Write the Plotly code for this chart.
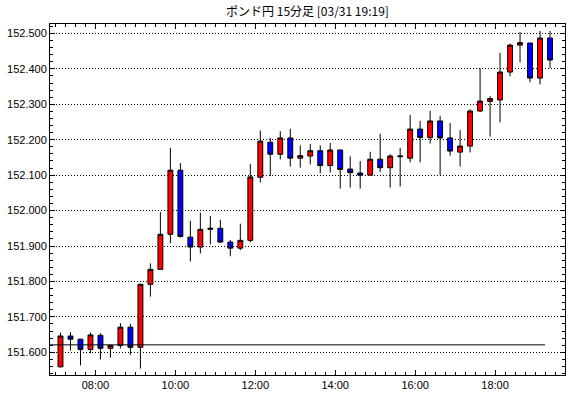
import pandas as pd
import plotly.graph_objects as go

TITLE = "ポンド円 15分足 [03/31 19:19]"
DATE = "2025-03-31"
START_TIMES = pd.date_range(f"{DATE} 07:00", periods=50, freq="15min").strftime("%H:%M").tolist()

OPEN = [151.559, 151.646, 151.637, 151.608, 151.648, 151.611, 151.619, 151.671, 151.614, 151.792,
        151.834, 151.933, 152.114, 151.925, 151.897, 151.947, 151.950, 151.911, 151.894, 151.916,
        152.094, 152.193, 152.159, 152.205, 152.148, 152.154, 152.169, 152.127, 152.171, 152.117,
        152.106, 152.100, 152.145, 152.121, 152.152, 152.148, 152.230, 152.206, 152.253, 152.205,
        152.165, 152.182, 152.281, 152.308, 152.312, 152.391, 152.467, 152.473, 152.374, 152.487]
HIGH = [151.655, 151.657, 151.638, 151.656, 151.654, 151.621, 151.682, 151.680, 151.793, 151.851,
        151.996, 152.177, 152.134, 151.971, 151.994, 151.985, 151.974, 151.917, 151.963, 152.132,
        152.226, 152.205, 152.224, 152.231, 152.184, 152.188, 152.184, 152.191, 152.172, 152.153,
        152.140, 152.166, 152.217, 152.159, 152.177, 152.270, 152.253, 152.282, 152.267, 152.247,
        152.227, 152.286, 152.402, 152.323, 152.445, 152.471, 152.504, 152.473, 152.507, 152.507]
LOW = [151.557, 151.605, 151.563, 151.597, 151.580, 151.585, 151.611, 151.593, 151.554, 151.757,
       151.834, 151.908, 151.924, 151.856, 151.879, 151.904, 151.910, 151.871, 151.888, 151.910,
       152.079, 152.097, 152.144, 152.124, 152.121, 152.130, 152.105, 152.107, 152.062, 152.065,
       152.062, 152.099, 152.109, 152.065, 152.068, 152.136, 152.136, 152.189, 152.100, 152.155,
       152.124, 152.164, 152.278, 152.209, 152.249, 152.379, 152.418, 152.362, 152.356, 152.402]
CLOSE = [151.646, 151.637, 151.608, 151.649, 151.611, 151.619, 151.671, 151.614, 151.792, 151.834,
         151.933, 152.114, 151.927, 151.897, 151.947, 151.950, 151.911, 151.894, 151.916, 152.095,
         152.196, 152.159, 152.205, 152.148, 152.155, 152.169, 152.127, 152.171, 152.116, 152.107,
         152.100, 152.145, 152.121, 152.154, 152.154, 152.230, 152.206, 152.253, 152.205, 152.168,
         152.182, 152.281, 152.309, 152.316, 152.391, 152.467, 152.474, 152.374, 152.487, 152.425]

REF_LEVEL = 151.621
REF_END = "19:15"

start = pd.to_datetime([f"{DATE} {t}" for t in START_TIMES])
centers = start + pd.Timedelta(minutes=7.5)

fig = go.Figure()
fig.add_trace(go.Candlestick(
    x=centers, open=OPEN, high=HIGH, low=LOW, close=CLOSE,
    increasing=dict(fillcolor="#FF0000", line=dict(color="black", width=1)),
    decreasing=dict(fillcolor="#0000FF", line=dict(color="black", width=1)),
    whiskerwidth=0, hoverinfo="skip", showlegend=False,
))

x0 = pd.Timestamp(f"{DATE} 06:51:45")
x1 = pd.Timestamp(f"{DATE} 19:45")
fig.add_shape(type="line", xref="x", yref="y",
              x0=x0, x1=pd.Timestamp(f"{DATE} {REF_END}"), y0=REF_LEVEL, y1=REF_LEVEL,
              line=dict(color="black", width=1), layer="above")

tickfont = dict(family="Liberation Sans", size=11, color="black")
fig.update_layout(
    width=570, height=398,
    margin=dict(l=50, r=5, t=24, b=23),
    paper_bgcolor="white", plot_bgcolor="white",
    title=dict(text=TITLE, x=(50 + 565) / 2 / 570, xanchor="center", y=1 - 12 / 398, yanchor="middle",
               font=dict(family="Noto Sans CJK JP", size=12, color="black")),
    boxgap=0.3,
    showlegend=False,
)
fig.update_xaxes(
    type="date", range=[x0, x1], rangeslider=dict(visible=False),
    tick0=f"{DATE} 00:00", dtick=2 * 3600 * 1000, tickformat="%H:%M",
    ticks="inside", ticklen=5, tickcolor="black", tickwidth=1,
    minor=dict(ticks="inside", dtick=15 * 60 * 1000, tick0=f"{DATE} 00:00", ticklen=3, tickcolor="black", showgrid=False),
    showline=True, linecolor="black", linewidth=1, mirror="ticks",
    showgrid=False, zeroline=False, tickfont=tickfont,
)
fig.update_yaxes(
    range=[151.5359, 152.5266], tick0=151.5, dtick=0.1, tickformat=".3f",
    ticks="inside", ticklen=5, tickcolor="black", tickwidth=1,
    minor=dict(ticks="inside", dtick=0.02, tick0=151.5, ticklen=3, tickcolor="black", showgrid=False),
    showline=True, linecolor="black", linewidth=1, mirror="ticks",
    showgrid=True, gridcolor="black", gridwidth=1, griddash="1px,2px",
    zeroline=False, tickfont=tickfont,
)

fig.write_html("out.html")
